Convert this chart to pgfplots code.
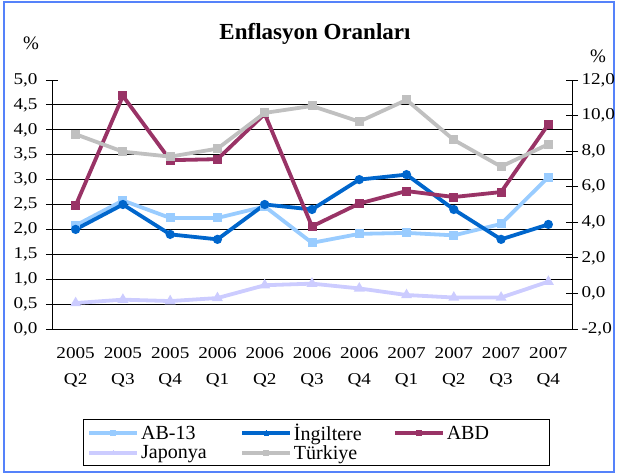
\documentclass[border=0pt]{standalone}
\usepackage{pgfplots}
\pgfplotsset{compat=1.18}
\usepackage{fontspec}
\setmainfont{Liberation Serif}
\newfontfamily\stretchfont[FakeStretch=1.16]{Liberation Serif}
\definecolor{cAB}{RGB}{153,204,255}
\definecolor{cUK}{RGB}{0,102,204}
\definecolor{cUS}{RGB}{153,51,102}
\definecolor{cJP}{RGB}{204,204,255}
\definecolor{cTR}{RGB}{192,192,192}
\definecolor{frameblue}{RGB}{85,130,250}
\pgfplotsset{
  common/.style={
    at={(52pt,144pt)}, anchor=south west,
    scale only axis, width=520pt, height=249pt,
    xmin=0.5, xmax=11.5,
    tick align=center,
    major tick length=12pt, minor tick length=12pt,
    axis line style={-, black, line width=0.8pt},
    tick style={black, line width=0.8pt},
    /pgf/number format/.cd, assume math mode=true, use comma, fixed, fixed zerofill, precision=1,
    /pgfplots/.cd,
    ticklabel style={font=\stretchfont\fontsize{16.5}{20}\selectfont},
    every axis plot/.append style={line width=3.8pt, mark size=2.6pt},
    legend image code/.code={
      \draw[#1, mark=none] (0pt,0pt) -- (48pt,0pt);
      \draw[#1, line width=0pt] plot coordinates {(24pt,0pt)};
    },
  }
}
\begin{document}
\begin{tikzpicture}
\path[use as bounding box] (0,0) rectangle (622pt,473pt);
\draw[frameblue, line width=1.6pt] (4pt,1pt) rectangle (614pt,471pt);
\begin{axis}[common,
  axis y line*=left, axis x line*=bottom,
  ymin=0, ymax=5,
  ytick={0,0.5,...,5},
  yticklabel style={xshift=-5pt},
  extra y ticks={0.5,1,...,4.5},
  extra y tick labels={},
  extra y tick style={grid=major, major tick length=0pt},
  grid style={black, line width=0.8pt},
  xtick={1,...,11},
  xticklabels={{2005\\Q2},{2005\\Q3},{2005\\Q4},{2006\\Q1},{2006\\Q2},{2006\\Q3},{2006\\Q4},{2007\\Q1},{2007\\Q2},{2007\\Q3},{2007\\Q4}},
  xticklabel style={align=center, font=\stretchfont\fontsize{16.5}{26}\selectfont, yshift=-9pt},
  x tick style={draw=none},
  minor xtick={0.5,1.5,...,11.5},
  minor x tick style={black, line width=0.8pt},
  legend columns=3,
  legend cell align=left,
  legend style={at={(0.0596,-0.3614)}, anchor=north west, draw=black, line width=0.8pt,
    font=\fontsize{20}{21}\selectfont, inner xsep=4pt, inner ysep=3pt, row sep=-1pt},
]
\addplot[cAB, mark=square*, forget plot] coordinates {(1,2.08)(2,2.58)(3,2.23)(4,2.23)(5,2.46)(6,1.73)(7,1.91)(8,1.93)(9,1.88)(10,2.11)(11,3.05)};
\addplot[cUK, mark=*, forget plot] coordinates {(1,2.0)(2,2.5)(3,1.9)(4,1.8)(5,2.5)(6,2.4)(7,3.0)(8,3.1)(9,2.4)(10,1.8)(11,2.1)};
\addplot[cUS, mark=square*, forget plot] coordinates {(1,2.48)(2,4.68)(3,3.39)(4,3.41)(5,4.32)(6,2.06)(7,2.52)(8,2.77)(9,2.65)(10,2.75)(11,4.11)};
\addlegendimage{cAB, mark=square*, line width=3.8pt, mark size=2.6pt}
\addlegendentry{\makebox[97pt][l]{AB-13}}
\addlegendimage{cUK, mark=*, line width=3.8pt, mark size=2.6pt}
\addlegendentry{\makebox[97pt][l]{İngiltere}}
\addlegendimage{cUS, mark=square*, line width=3.8pt, mark size=2.6pt}
\addlegendentry{\makebox[97pt][l]{ABD}}
\addlegendimage{cJP, mark=triangle*, line width=3.8pt, mark size=2.6pt}
\addlegendentry{\makebox[97pt][l]{Japonya}}
\addlegendimage{cTR, mark=square*, line width=3.8pt, mark size=2.6pt}
\addlegendentry{\makebox[97pt][l]{Türkiye}}
\end{axis}
\begin{axis}[common,
  axis y line*=right, axis x line=none,
  ymin=-2, ymax=12,
  ytick={-2,0,...,12},
]
\addplot[cJP, mark=triangle*] coordinates {(1,-0.54)(2,-0.35)(3,-0.43)(4,-0.26)(5,0.46)(6,0.55)(7,0.28)(8,-0.09)(9,-0.23)(10,-0.23)(11,0.66)};
\addplot[cTR, mark=square*] coordinates {(1,8.95)(2,7.97)(3,7.69)(4,8.14)(5,10.15)(6,10.54)(7,9.66)(8,10.88)(9,8.63)(10,7.13)(11,8.39)};
\end{axis}
\node[font=\bfseries\fontsize{23}{26}\selectfont, anchor=base] at (315pt,433pt) {Enflasyon Oranları};
\node[font=\fontsize{19}{20}\selectfont] at (31pt,430pt) {\%};
\node[font=\fontsize{19}{20}\selectfont] at (598pt,417pt) {\%};
\end{tikzpicture}
\end{document}
